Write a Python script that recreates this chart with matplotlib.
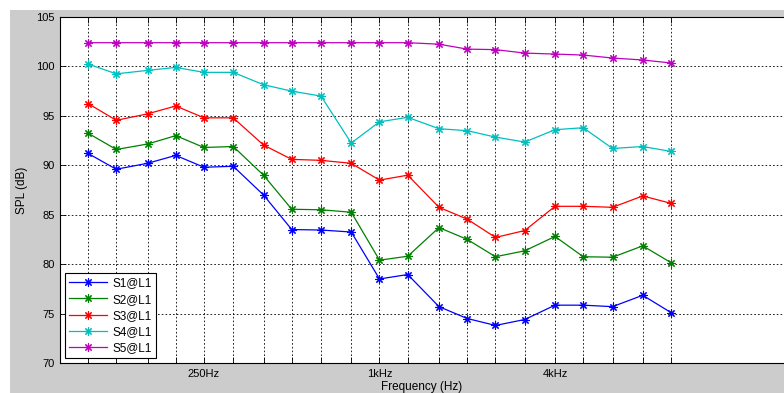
import matplotlib.pyplot as plt
from matplotlib.patches import Rectangle

plt.rcParams['font.family'] = ['Liberation Sans', 'DejaVu Sans']

# 1/3 octave band centres
freqs = [100, 125, 160, 200, 250, 315, 400, 500, 630, 800, 1000,
         1250, 1600, 2000, 2500, 3150, 4000, 5000, 6300, 8000, 10000]

s1 = [91.2, 89.6, 90.2, 91.0, 89.8, 89.9, 87.0, 83.5, 83.45, 83.25, 78.5,
      78.95, 75.7, 74.5, 73.8, 74.4, 75.85, 75.85, 75.7, 76.85, 75.1]
s2 = [93.25, 91.6, 92.15, 93.0, 91.8, 91.9, 89.0, 85.55, 85.5, 85.25, 80.4,
      80.8, 83.7, 82.5, 80.75, 81.35, 82.8, 80.75, 80.7, 81.85, 80.15]
s3 = [96.25, 94.55, 95.2, 96.0, 94.8, 94.8, 92.05, 90.6, 90.5, 90.2, 88.5,
      89.0, 85.75, 84.55, 82.7, 83.4, 85.85, 85.85, 85.75, 86.9, 86.15]
s4 = [100.25, 99.25, 99.6, 99.9, 99.4, 99.4, 98.15, 97.5, 97.0, 92.25, 94.4,
      94.85, 93.7, 93.5, 92.85, 92.35, 93.6, 93.8, 91.7, 91.9, 91.4]
s5 = [102.4, 102.4, 102.4, 102.4, 102.4, 102.4, 102.4, 102.4, 102.4, 102.4, 102.4,
      102.4, 102.25, 101.75, 101.7, 101.35, 101.25, 101.15, 100.85, 100.65, 100.35]

series = [s1, s2, s3, s4, s5]
labels = ['S1@L1', 'S2@L1', 'S3@L1', 'S4@L1', 'S5@L1']
colors = ['#0000ff', '#008000', '#ff0000', '#00bfbf', '#bf00bf']

tick_labels = {250: '250Hz', 1000: '1kHz', 4000: '4kHz'}
yticks = [70, 75, 80, 85, 90, 95, 100, 105]

W, H = 784, 393
fig = plt.figure(figsize=(W / 100, H / 100), dpi=100, facecolor='white')
fig.patches.append(Rectangle((10 / W, 0), 1, (H - 10) / H, transform=fig.transFigure,
                             facecolor='#cccccc', edgecolor='none', zorder=-10))

# axes box in pixels: x 60..790, y 17..363 (from top)
ax = fig.add_axes([60 / W, (H - 363) / H, (790 - 60) / W, (363 - 17) / H])
ax.set_facecolor('white')

for y, lab, c in zip(series, labels, colors):
    ax.plot(freqs, y, color=c, lw=0.9, marker=(8, 2, 0), markersize=6,
            markeredgewidth=0.8, label=lab)

ax.set_xscale('log')
px_oct = 87.75
ax.set_xlim(100 / 2 ** (28 / px_oct), 10000 * 2 ** ((790 - 671) / px_oct))
ax.set_ylim(70, 105)
ax.set_xticks(freqs)
ax.set_xticklabels([tick_labels.get(f, '') for f in freqs])
ax.minorticks_off()
ax.set_yticks(yticks)
ax.tick_params(which='both', direction='in', top=True, right=True, length=4,
               width=0.6, labelsize=8, colors='black', pad=4)

ax.grid(True, color='black', linestyle=(0, (2, 2.5)), linewidth=0.6)
ax.set_axisbelow(True)
for sp in ax.spines.values():
    sp.set_linewidth(0.8)
    sp.set_color('black')

# x label sits right at the bottom edge, as in the cropped original
fig.text(422 / W, (H - 381) / H, 'Frequency (Hz)', fontsize=8.5,
         ha='center', va='top')
ax.set_ylabel('SPL (dB)', fontsize=8.5)
ax.yaxis.set_label_coords(-(60 - 28) / 730, 0.5)

leg = ax.legend(loc='lower left', bbox_to_anchor=(0.007, 0.014), borderaxespad=0,
                fontsize=8.5, fancybox=False, edgecolor='black', framealpha=1,
                handlelength=3.2, handletextpad=0.5, labelspacing=0.35,
                borderpad=0.35)
leg.get_frame().set_linewidth(0.8)

fig.savefig('out.png', dpi=100, facecolor=fig.get_facecolor())
